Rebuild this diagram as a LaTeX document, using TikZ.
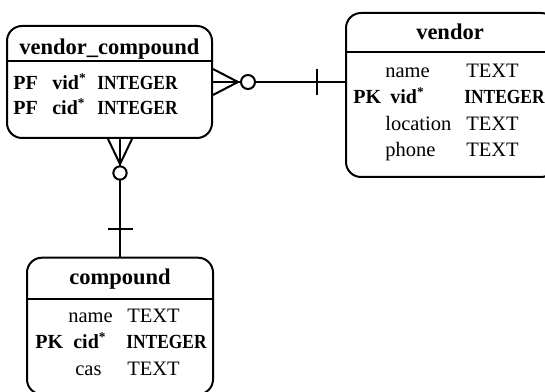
\documentclass[tikz,border=0pt]{standalone}
\usepackage{fontspec}
\setmainfont{Liberation Serif}
\usepackage{tikz}
\usetikzlibrary{calc}

\tikzset{
    entity/.style={draw, rounded corners=9pt, line width=1.2pt, inner sep=0pt},
    cell/.style={anchor=base west, inner sep=0pt, font=\fontsize{12.3}{14}\selectfont},
    keycell/.style={cell, font=\fontsize{12}{14}\selectfont\bfseries},
    head/.style={anchor=base, inner sep=0pt, font=\fontsize{13.5}{15}\selectfont\bfseries},
    rel/.style={line width=1.2pt}
}

\begin{document}
\begin{tikzpicture}[x=0.6pt, y=-0.6pt]
                \useasboundingbox (0,0) rectangle (545,392);
                % Tables
                \node[entity, minimum width=123pt, minimum height=67.2pt] (vc) at (109.5,82) {};
                \node[entity, minimum width=126pt, minimum height=98.4pt] (vendor) at (451,95) {};
                \node[entity, minimum width=111.6pt, minimum height=82pt] (compound) at (120,326) {};
                \draw[rel] (vc.west |- 0,61) -- (vc.east |- 0,61);
                \draw[rel] (vendor.west |- 0,52) -- (vendor.east |- 0,52);
                \draw[rel] (compound.west |- 0,299) -- (compound.east |- 0,299);
                % Titles
                \node[head] (vc-title) at (109.5,55) {vendor\_compound};
                \node[head] (vendor-title) at (450,40) {vendor};
                \node[head] (compound-title) at (120,285) {compound};
                % vendor_compound columns
                \node[keycell] (vc-k1) at (13,90) {PF};
                \node[keycell] (vc-n1) at (52,90) {vid\textsuperscript{*}};
                \node[keycell] (vc-t1) at (97,90) {\scalebox{0.87}[1]{INTEGER}};
                \node[keycell] (vc-k2) at (13,115) {PF};
                \node[keycell] (vc-n2) at (52,115) {cid\textsuperscript{*}};
                \node[keycell] (vc-t2) at (97,115) {\scalebox{0.87}[1]{INTEGER}};
                % vendor columns
                \node[cell] (vendor-n1) at (385,78) {name};
                \node[cell] (vendor-t1) at (466,78) {TEXT};
                \node[keycell] (vendor-k2) at (353,104) {PK};
                \node[keycell] (vendor-n2) at (390,104) {vid\textsuperscript{*}};
                \node[keycell] (vendor-t2) at (464,104) {\scalebox{0.87}[1]{INTEGER}};
                \node[cell] (vendor-n3) at (385,131) {location};
                \node[cell] (vendor-t3) at (466,131) {TEXT};
                \node[cell] (vendor-n4) at (385,157) {phone};
                \node[cell] (vendor-t4) at (466,157) {TEXT};
                % compound columns
                \node[cell] (compound-n1) at (68,323) {name};
                \node[cell] (compound-t1) at (127,323) {TEXT};
                \node[keycell] (compound-k2) at (35,349) {PK};
                \node[keycell] (compound-n2) at (73,349) {cid\textsuperscript{*}};
                \node[keycell] (compound-t2) at (126,349) {\scalebox{0.87}[1]{INTEGER}};
                \node[cell] (compound-n3) at (75,375) {cas};
                \node[cell] (compound-t3) at (127,375) {TEXT};
                % Edges
                \draw[rel] (vc.east) -- (vc.east -| vendor.west);
                \draw[rel] (vc.east) ++(0,-13) -- ++(25,13) -- ++(-25,13);
                \draw[rel, fill=white] ($(vc.east)+(35,0)$) circle[radius=4.2pt];
                \draw[rel] ($(vc.east -| vendor.west)+(-28,-13)$) -- ++(0,26);
                \draw[rel] (compound.north) -- (compound.north |- vc.south);
                \draw[rel] (compound.north |- vc.south) ++(-12,0) -- ++(12,25) -- ++(12,-25);
                \draw[rel, fill=white] ($(compound.north |- vc.south)+(0,34)$) circle[radius=4pt];
                \draw[rel] ($(compound.north)+(-12,-28)$) -- ++(25,0);
            \end{tikzpicture}
\end{document}
